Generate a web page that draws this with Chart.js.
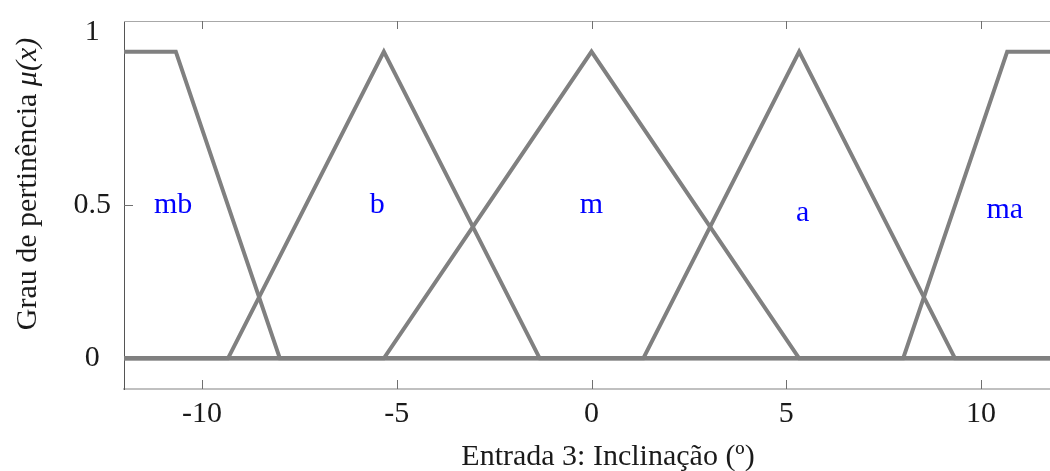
<!DOCTYPE html>
<html>
<head>
<meta charset="utf-8">
<script src="https://cdn.jsdelivr.net/npm/chart.js@4/dist/chart.umd.min.js"></script>
<style>
  html, body { margin: 0; padding: 0; background: #fff; overflow: hidden; }
  canvas { display: block; }
</style>
</head>
<body>
<canvas id="mfChart" width="1062" height="471"></canvas>
<script>
// membership functions for "Entrada 3" (breakpoints, grade)
const mbX = [-12, -10.67, -8, 12];
const mbY = [1, 1, 0, 0];
const bX = [-12, -9.33, -5.33, -1.33, 12];
const bY = [0, 0, 1, 0, 0];
const mX = [-12, -5.33, 0, 5.33, 12];
const mY = [0, 0, 1, 0, 0];
const aX = [-12, 1.33, 5.33, 9.33, 12];
const aY = [0, 0, 1, 0, 0];
const maX = [-12, 8, 10.67, 12];
const maY = [0, 0, 1, 1];

// set names and where they are written
const setNames = ['mb', 'b', 'm', 'a', 'ma'];
const setNameX = [-10.74, -5.5, 0, 5.42, 10.61];
const setNameY = [0.5, 0.5, 0.5, 0.475, 0.482];

const xTicks = [-10, -5, 0, 5, 10];
const yTicks = [0, 0.5, 1.065];
const yTickLabels = ['0', '0.5', '1'];

const serif = '"Liberation Serif", "Times New Roman", serif';
const fontSize = 30;

function toPoints(xs, ys) {
    return xs.map((x, i) => ({ x: x, y: ys[i] }));
}

const series = [[mbX, mbY], [bX, bY], [mX, mY], [aX, aY], [maX, maY]];

// frame + inward tick marks, drawn under the lines
const framePlugin = {
    id: 'frame',
    beforeDatasetsDraw(chart) {
        const { ctx, chartArea: ca, scales } = chart;
        ctx.save();
        ctx.lineWidth = 1;
        ctx.strokeStyle = '#a8a8a8';
        ctx.beginPath();
        ctx.moveTo(ca.left, ca.top + 0.5);
        ctx.lineTo(ca.right, ca.top + 0.5);
        ctx.stroke();
        ctx.strokeStyle = '#707070';
        ctx.beginPath();
        xTicks.forEach(v => {
            const px = Math.round(scales.x.getPixelForValue(v)) + 0.5;
            ctx.moveTo(px, ca.bottom);
            ctx.lineTo(px, ca.bottom - 9);
            ctx.moveTo(px, ca.top);
            ctx.lineTo(px, ca.top + 8);
        });
        [0, 0.5].forEach(v => {
            const py = Math.round(scales.y.getPixelForValue(v)) + 0.5;
            ctx.moveTo(ca.left, py);
            ctx.lineTo(ca.left + 9, py);
        });
        ctx.stroke();
        ctx.restore();
    },
    afterDatasetsDraw(chart) {
        const { ctx, scales } = chart;
        ctx.save();
        ctx.font = fontSize + 'px ' + serif;
        ctx.fillStyle = '#0000ff';
        ctx.textAlign = 'center';
        ctx.textBaseline = 'middle';
        setNames.forEach((name, i) => {
            ctx.fillText(name, scales.x.getPixelForValue(setNameX[i]), scales.y.getPixelForValue(setNameY[i]));
        });

        // axis titles
        ctx.fillStyle = '#1a1a1a';
        ctx.textBaseline = 'alphabetic';
        ctx.fillText('Entrada 3: Inclinação (º)', 608, 465);

        ctx.translate(36, 184);
        ctx.rotate(-Math.PI / 2);
        const part1 = 'Grau de pertinência ';
        const part2 = 'μ(x)';
        ctx.font = fontSize + 'px ' + serif;
        const w1 = ctx.measureText(part1).width;
        ctx.font = 'italic ' + fontSize + 'px ' + serif;
        const w2 = ctx.measureText(part2).width;
        const start = -(w1 + w2) / 2;
        ctx.textAlign = 'left';
        ctx.font = fontSize + 'px ' + serif;
        ctx.fillText(part1, start, 0);
        ctx.font = 'italic ' + fontSize + 'px ' + serif;
        ctx.fillText(part2, start + w1, 0);
        ctx.restore();
    }
};

const ctx = document.getElementById('mfChart').getContext('2d');
const mfChart = new Chart(ctx, {
    type: 'line',
    data: {
        datasets: series.map(s => ({
            data: toPoints(s[0], s[1]),
            borderColor: '#808080',
            borderWidth: 4,
            pointRadius: 0,
            tension: 0,
            fill: false
        }))
    },
    options: {
        responsive: false,
        animation: false,
        layout: { padding: { left: 0, top: 21, right: 3, bottom: 0 } },
        plugins: {
            legend: { display: false },
            tooltip: { enabled: false }
        },
        scales: {
            x: {
                type: 'linear',
                min: -12,
                max: 12,
                afterBuildTicks: scale => { scale.ticks = xTicks.map(v => ({ value: v })); },
                afterFit: scale => {
                    scale.height = 82;
                    scale.paddingLeft = 0;
                    scale.paddingRight = 0;
                },
                grid: { display: false, drawTicks: false },
                border: { display: true, color: '#c0c0c0', width: 2 },
                ticks: {
                    padding: 7,
                    color: '#1a1a1a',
                    font: { family: serif, size: fontSize },
                    maxRotation: 0
                }
            },
            y: {
                type: 'linear',
                min: -0.1,
                max: 1.1,
                afterBuildTicks: scale => { scale.ticks = yTicks.map(v => ({ value: v })); },
                afterFit: scale => {
                    scale.width = 124;
                    scale.paddingTop = 0;
                    scale.paddingBottom = 0;
                },
                grid: { display: false, drawTicks: false },
                border: { display: true, color: '#555555', width: 1 },
                ticks: {
                    padding: 13,
                    crossAlign: 'center',
                    color: '#1a1a1a',
                    font: { family: serif, size: fontSize },
                    callback: (value, index) => yTickLabels[index]
                }
            }
        }
    },
    plugins: [framePlugin]
});
</script>
</body>
</html>
